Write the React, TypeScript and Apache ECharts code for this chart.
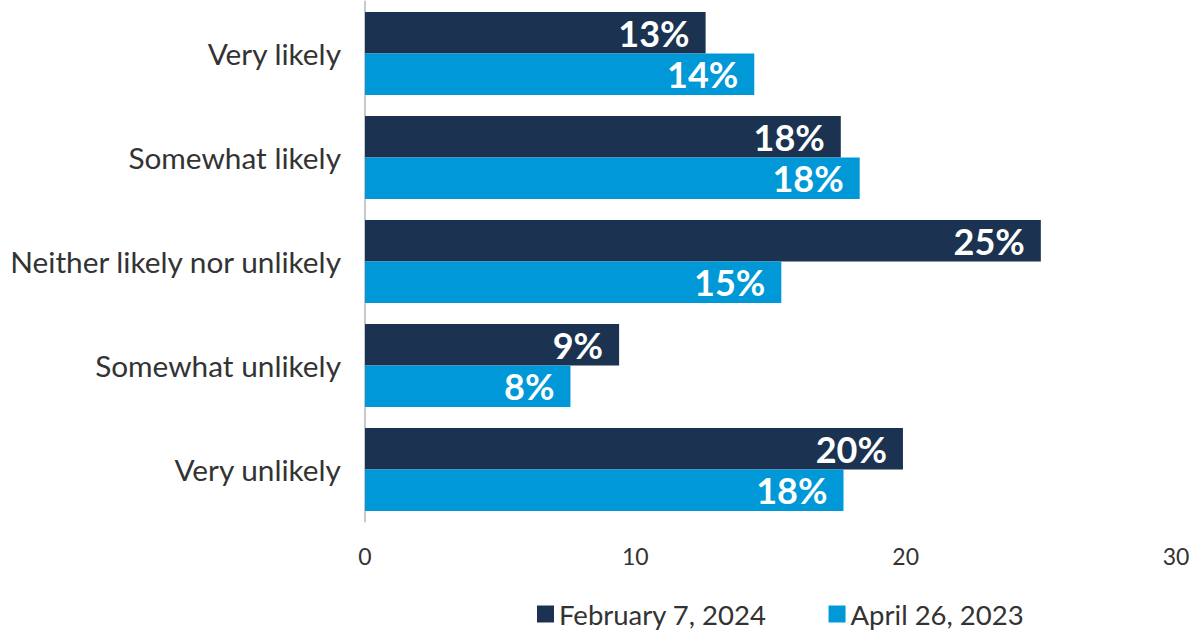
import React, { useEffect, useRef } from "react";
import * as echarts from "echarts";

const categories = [
  "Very likely",
  "Somewhat likely",
  "Neither likely nor unlikely",
  "Somewhat unlikely",
  "Very unlikely",
];
const feb2024 = [12.6, 17.6, 25.0, 9.4, 19.9];
const apr2023 = [14.4, 18.3, 15.4, 7.6, 17.7];
const seriesNames = ["February 7, 2024", "April 26, 2023"];
const xTicks = { min: 0, max: 30, interval: 10 };

export default function App() {
  const ref = useRef<HTMLDivElement>(null);
  useEffect(() => {
    if (!ref.current) return;
    const chart = echarts.init(ref.current, null, { renderer: "svg" });
    const font = "Lato, 'Noto Sans', sans-serif";
    const label = {
      show: true,
      position: "insideRight" as const,
      distance: 16,
      color: "#ffffff",
      fontFamily: font,
      fontWeight: "bold" as const,
      fontSize: 36,
      formatter: (p: any) => Math.round(p.value) + "%",
    };
    chart.setOption({
      animation: false,
      backgroundColor: "#ffffff",
      grid: { left: 365, right: 20, top: 1.5, bottom: 109.5, containLabel: false },
      legend: {
        data: seriesNames,
        left: 537,
        top: 600,
        padding: 0,
        icon: "rect",
        itemWidth: 17,
        itemHeight: 17,
        itemGap: 62,
        textStyle: { fontFamily: font, fontSize: 27.5, color: "#333333" },
      },
      xAxis: {
        type: "value",
        min: xTicks.min,
        max: xTicks.max,
        interval: xTicks.interval,
        axisLine: { show: false },
        axisTick: { show: false },
        splitLine: { show: false },
        axisLabel: { fontFamily: font, fontSize: 23, color: "#333333", margin: 23 },
      },
      yAxis: {
        type: "category",
        data: categories,
        inverse: true,
        axisLine: { show: true, lineStyle: { color: "#c8c8c8", width: 2 } },
        axisTick: { show: false },
        axisLabel: {
          fontFamily: font,
          fontSize: 29.8,
          color: "#333333",
          margin: 24,
          padding: [0, 0, 5, 0],
        },
      },
      series: [
        {
          name: seriesNames[0],
          type: "bar",
          data: feb2024,
          barGap: "0%",
          barCategoryGap: "20%",
          itemStyle: { color: "#1b3350" },
          label,
        },
        {
          name: seriesNames[1],
          type: "bar",
          data: apr2023,
          barGap: "0%",
          barCategoryGap: "20%",
          itemStyle: { color: "#0098d6" },
          label,
        },
      ],
    });
    return () => chart.dispose();
  }, []);
  return (
    <div
      ref={ref}
      style={{ position: "fixed", left: 0, top: 0, width: 1196, height: 631 }}
    />
  );
}
